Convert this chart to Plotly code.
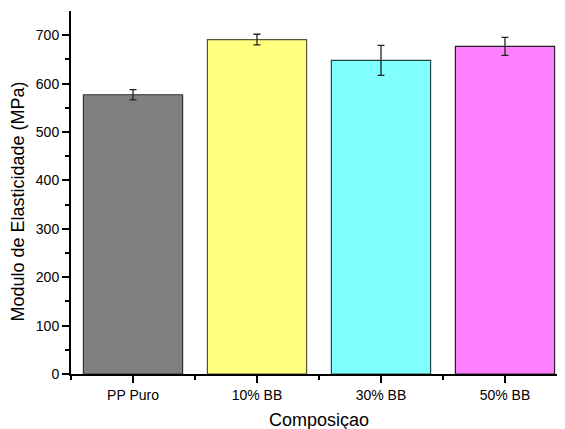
import plotly.graph_objects as go

categories = ["PP Puro", "10% BB", "30% BB", "50% BB"]
values = [577, 691, 648, 677]
errors = [10.5, 11, 31, 18.5]
colors = ["#808080", "#FFFF80", "#80FFFF", "#FF80FF"]
outlines = ["#333333", "#555533", "#224444", "#222222"]
y_ticks = [0, 100, 200, 300, 400, 500, 600, 700]
y_minor = [50, 150, 250, 350, 450, 550, 650]

positions = list(range(len(categories)))
x_minor = [p - 0.5 for p in positions]

fig = go.Figure()
fig.add_trace(go.Bar(
    x=positions, y=values, width=0.8,
    marker=dict(color=colors, line=dict(color=outlines, width=1.2)),
    error_y=dict(type="data", array=errors, visible=True, color="#222222", thickness=1.3, width=3.5),
    showlegend=False,
))

font = "Liberation Sans, Arial, sans-serif"
fig.update_layout(
    width=557, height=421,
    margin=dict(l=63, r=0, t=3, b=55),
    paper_bgcolor="white", plot_bgcolor="white",
    font=dict(family=font, size=14, color="black"),
    bargap=0.2,
    annotations=[
        dict(text="Modulo de Elasticidade (MPa)", textangle=-90, xref="paper", yref="paper",
             x=-0.108, y=0.474, xanchor="center", yanchor="middle", showarrow=False,
             borderpad=0, font=dict(size=18, family=font, color="black")),
        dict(text="Composiçao", xref="paper", yref="paper",
             x=0.502, y=-0.128, xanchor="center", yanchor="middle", showarrow=False,
             font=dict(size=18, family=font, color="black")),
    ],
)
fig.update_xaxes(
    range=[-0.5, 3.484], tickvals=positions, ticktext=categories,
    showline=True, linecolor="black", linewidth=2, mirror=False,
    ticks="outside", ticklen=7, tickwidth=1.5, tickcolor="black",
    minor=dict(tickmode="array", tickvals=x_minor, ticks="outside", ticklen=4, tickwidth=1.5, tickcolor="black"),
    showgrid=False, zeroline=False,
    tickfont=dict(size=14),
)
fig.update_yaxes(
    range=[0, 750], tickvals=y_ticks,
    showline=True, linecolor="black", linewidth=2,
    ticks="outside", ticklen=7, tickwidth=1.5, tickcolor="black",
    minor=dict(tickmode="array", tickvals=y_minor, ticks="outside", ticklen=4, tickwidth=1.5, tickcolor="black"),
    showgrid=False, zeroline=False,
    tickfont=dict(size=14),
)

fig.write_html("out.html")
